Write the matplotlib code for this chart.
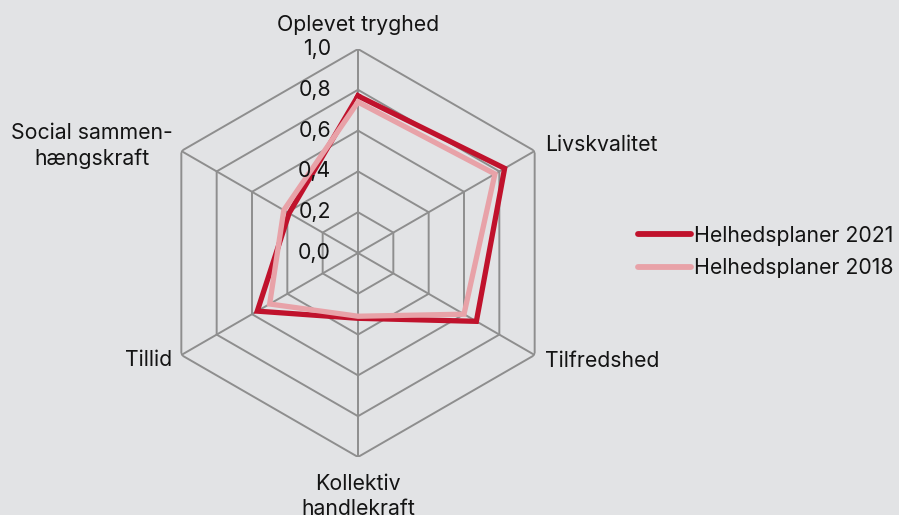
import numpy as np
import matplotlib.pyplot as plt

plt.rcParams['font.family'] = ['Inter', 'DejaVu Sans']

categories = ['Oplevet tryghed', 'Livskvalitet', 'Tilfredshed',
              'Kollektiv\nhandlekraft', 'Tillid', 'Social sammen-\nhængskraft']
values_2021 = [0.77, 0.83, 0.67, 0.32, 0.57, 0.39]
values_2018 = [0.74, 0.775, 0.60, 0.31, 0.50, 0.42]
series_names = ['Helhedsplaner 2021', 'Helhedsplaner 2018']
rings = [0.2, 0.4, 0.6, 0.8, 1.0]
tick_values = [0.0, 0.2, 0.4, 0.6, 0.8, 1.0]
tick_labels = ['0,0', '0,2', '0,4', '0,6', '0,8', '1,0']

bg = '#e2e3e5'
dark_red = '#c0122c'
pink = '#e8a2a8'
grid_col = '#8e8e8e'
txt_col = '#141414'
fs = 15.3

W, H = 899, 515
fig = plt.figure(figsize=(W / 100, H / 100), dpi=100)
fig.patch.set_facecolor(bg)

cx, cy, rad = 358, 253, 204
ax = fig.add_axes([(cx - rad) / W, (H - cy - rad) / H, 2 * rad / W, 2 * rad / H],
                  projection='polar')
ax.set_facecolor('none')
ax.set_theta_offset(np.pi / 2)
ax.set_theta_direction(-1)
ax.set_ylim(0, 1)
ax.grid(False)
ax.set_xticks([])
ax.set_yticks([])
ax.spines['polar'].set_visible(False)

n = len(categories)
angles = np.linspace(0, 2 * np.pi, n, endpoint=False)
closed = np.append(angles, angles[0])

# hexagon grid
for r in rings:
    ax.plot(closed, [r] * (n + 1), color=grid_col, lw=1.4, zorder=1)
for a in angles:
    ax.plot([a, a], [0, 1], color=grid_col, lw=1.4, zorder=1)

# series
l1, = ax.plot(closed, values_2021 + values_2021[:1], color=dark_red, lw=3.8,
              solid_joinstyle='miter', zorder=3, label=series_names[0])
l2, = ax.plot(closed, values_2018 + values_2018[:1], color=pink, lw=3.8,
              solid_joinstyle='miter', zorder=4, label=series_names[1])

# radial tick labels
for v, lab in zip(tick_values, tick_labels):
    ax.annotate(lab, xy=(0, v), xytext=(-19.5, 0), textcoords='offset points',
                ha='right', va='center', fontsize=fs, color=txt_col, zorder=5)

# category labels
label_pos = [
    (1.12, 'center', 'center'),
    (1.06, 'left', 'center'),
    (1.06, 'left', 'center'),
    (1.085, 'center', 'top'),
    (1.05, 'right', 'center'),
    (1.05, 'right', 'center'),
]
for a, lab, (r, ha, va) in zip(angles, categories, label_pos):
    ax.text(a, r, lab, ha=ha, va=va, multialignment='center', fontsize=fs,
            color=txt_col, linespacing=1.3, clip_on=False)

leg = fig.legend(handles=[l1, l2], loc='center left',
                 bbox_to_anchor=(638 / W, 1 - 252 / H), frameon=False,
                 fontsize=fs, handlelength=2.5, handletextpad=0.15,
                 labelspacing=0.6, borderpad=0, borderaxespad=0)
for h in leg.legend_handles:
    h.set_linewidth(4.2)
    h.set_solid_capstyle('round')
for t in leg.get_texts():
    t.set_color(txt_col)

fig.savefig('out.png', dpi=100, facecolor=bg)
